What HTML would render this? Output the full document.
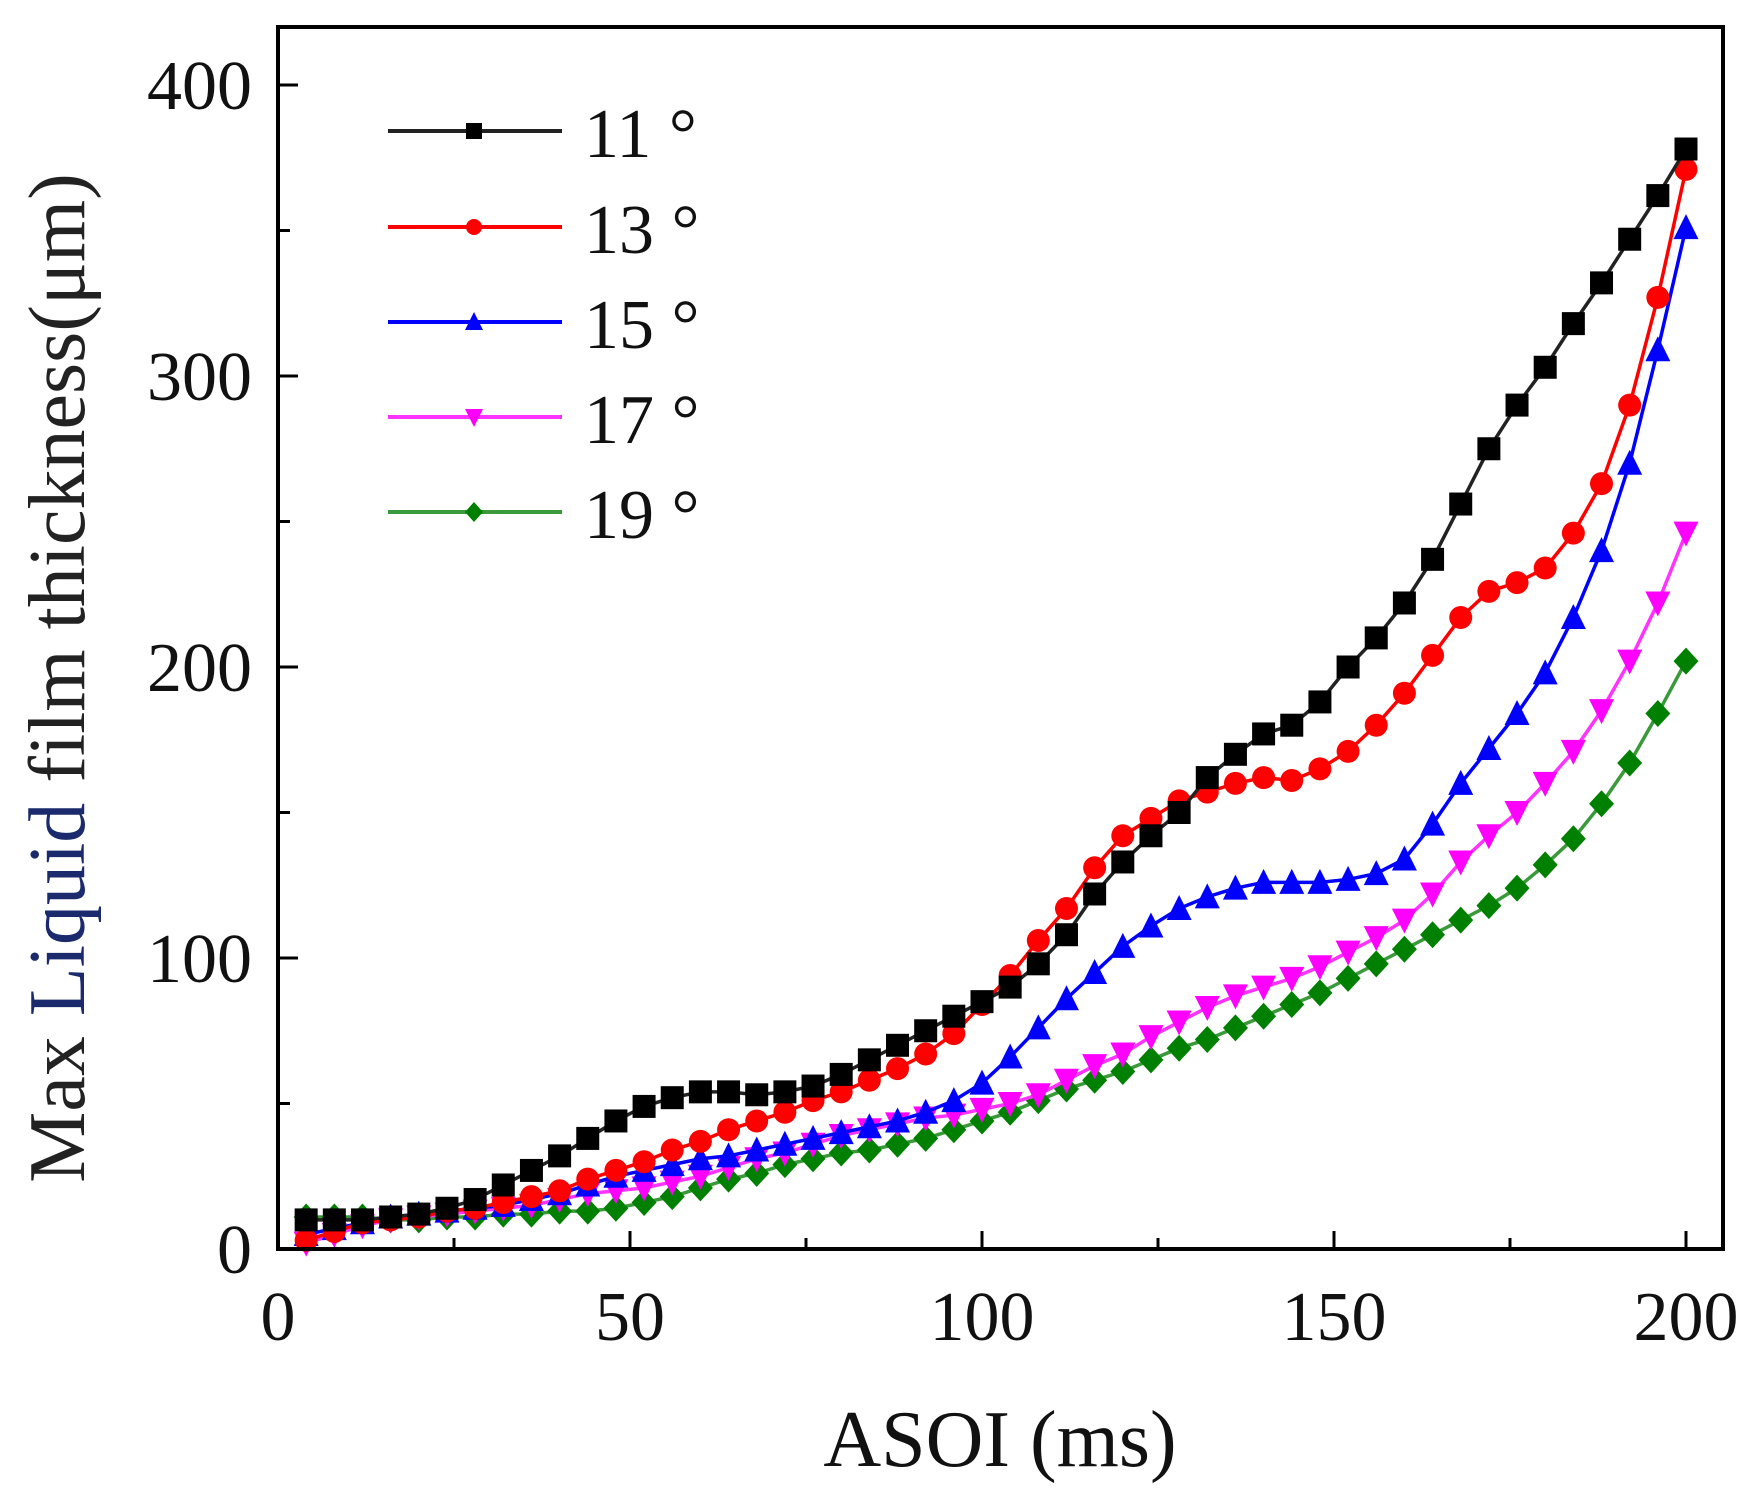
<!DOCTYPE html>
<html><head><meta charset="utf-8"><style>
html,body{margin:0;padding:0;background:#fff;}
svg{display:block;font-family:"Liberation Serif",serif;}
</style></head><body>
<svg id="chart" width="1764" height="1492" viewBox="0 0 1764 1492">
<rect x="0" y="0" width="1764" height="1492" fill="#fff"/>
<g id="grid-ticks"></g>
<g id="series"></g>
<rect x="278" y="27" width="1445" height="1222" fill="none" stroke="#000" stroke-width="4"/>
<g id="legend"></g>
<text x="0" y="0" transform="translate(84,678) rotate(-90)" text-anchor="middle" font-size="80" fill="#222">Max <tspan fill="#1a2a6c">Liquid</tspan> film thickness(μm)</text>
<text x="1000" y="1466" text-anchor="middle" font-size="80" fill="#111">ASOI (ms)</text>
</svg>
<script>
const xValues = [4,8,12,16,20,24,28,32,36,40,44,48,52,56,60,64,68,72,76,80,84,88,92,96,100,104,108,112,116,120,124,128,132,136,140,144,148,152,156,160,164,168,172,176,180,184,188,192,196,200];
const s11 = [10,10,10,11,12,14,17,22,27,32,38,44,49,52,54,54,53,54,56,60,65,70,75,80,85,90,98,108,122,133,142,150,162,170,177,180,188,200,210,222,237,256,275,290,303,318,332,347,362,378];
const s13 = [3,6,9,10,11,13,14,16,18,20,24,27,30,34,37,41,44,47,51,54,58,62,67,74,84,94,106,117,131,142,148,154,157,160,162,161,165,171,180,191,204,217,226,229,234,246,263,290,327,371];
const s15 = [5,7,9,11,12,13,14,15,17,19,22,25,27,29,31,32,34,36,38,40,42,44,47,51,57,66,76,86,95,104,111,117,121,124,126,126,126,127,129,134,146,160,172,184,198,217,240,270,309,351];
const s17 = [2,5,8,10,11,12,13,14,15,17,19,20,21,23,25,28,31,33,36,39,41,43,45,46,48,50,53,58,63,67,73,78,83,87,90,93,97,102,107,113,122,133,142,150,160,171,185,202,222,246];
const s19 = [11,11,11,10,10,11,11,12,12,13,13,14,16,18,21,24,26,29,31,33,34,36,38,41,44,47,51,55,58,61,65,69,72,76,80,84,88,93,98,103,108,113,118,124,132,141,153,167,184,202];
const seriesNames = ["11 °","13 °","15 °","17 °","19 °"];
const xTicks = [0,50,100,150,200];
const yTicks = [0,100,200,300,400];

const NS = "http://www.w3.org/2000/svg";
const X0 = 278, X1 = 1686, Y0 = 1249, Y400 = 85;
function xs(v){ return X0 + (v/200)*(X1-X0); }
function ys(v){ return Y0 - (v/400)*(Y0-Y400); }
function mk(tag, attrs, parent){ const e=document.createElementNS(NS,tag); for(const k in attrs) e.setAttribute(k,attrs[k]); parent.appendChild(e); return e; }

const tg = document.getElementById('grid-ticks');
for (let v=0; v<=200; v+=25){
  const major = v%50===0;
  const t = mk('line',{x1:xs(v),x2:xs(v),y1:Y0,y2:Y0-(major?18:11),stroke:'#000','stroke-width':3},tg);
  
  
}
for (let v=0; v<=400; v+=50){
  const major = v%100===0;
  const t = mk('line',{x1:X0,x2:X0+(major?20:12),y1:ys(v),y2:ys(v),stroke:'#000','stroke-width':3},tg);
  
  
}
xTicks.forEach(v=>{
  const t = mk('text',{x:xs(v),y:1340,'text-anchor':'middle','font-size':70,fill:'#111'},tg);
  t.textContent = v;
  
  
});
yTicks.forEach(v=>{
  const t = mk('text',{x:252,y:ys(v)+24,'text-anchor':'end','font-size':70,fill:'#111'},tg);
  t.textContent = v;
  
  
});

const allSeries = [s11,s13,s15,s17,s19];
const colors = ['#000000','#ff0000','#0000ff','#ff00ff','#008000'];
const lineColors = ['#222','#ff0000','#0000ff','#ff33ff','#3a9a3a'];
const shapes = ['square','circle','triangle','invtriangle','diamond'];
function marker(shape, cx, cy, size, color, parent){
  let e;
  const h=size/2;
  if(shape==='square') e=mk('rect',{x:cx-h,y:cy-h,width:size,height:size,fill:color},parent);
  else if(shape==='circle') e=mk('circle',{cx:cx,cy:cy,r:h,fill:color},parent);
  else if(shape==='triangle') e=mk('polygon',{points:`${cx},${cy-h-2} ${cx+h+1},${cy+h} ${cx-h-1},${cy+h}`,fill:color},parent);
  else if(shape==='invtriangle') e=mk('polygon',{points:`${cx},${cy+h+2} ${cx+h+1},${cy-h} ${cx-h-1},${cy-h}`,fill:color},parent);
  else e=mk('polygon',{points:`${cx},${cy-h-2} ${cx+h+1},${cy} ${cx},${cy+h+2} ${cx-h-1},${cy}`,fill:color},parent);
  return e;
}
const sg = document.getElementById('series');
for (let si=allSeries.length-1; si>=0; si--){
  const g = mk('g',{},sg);
  
  
  const pts = xValues.map((x,i)=>xs(x)+','+ys(allSeries[si][i])).join(' ');
  const pl = mk('polyline',{points:pts,fill:'none',stroke:lineColors[si],'stroke-width':3.5},g);
  
  
  xValues.forEach((x,i)=>{
    const m = marker(shapes[si], xs(x), ys(allSeries[si][i]), 23, colors[si], g);
    
    
  });
}
const lg = document.getElementById('legend');
const legY = [131,227,322,417,512];
seriesNames.forEach((n,i)=>{
  const g = mk('g',{},lg);
  
  
  mk('line',{x1:388,x2:562,y1:legY[i],y2:legY[i],stroke:lineColors[i],'stroke-width':4},g);
  marker(shapes[i],474,legY[i],16,colors[i],g);
  const t = mk('text',{x:584,y:legY[i]+26,'font-size':70,fill:'#111'},g);
  t.textContent = n;
  
  
});
</script>
</body></html>
